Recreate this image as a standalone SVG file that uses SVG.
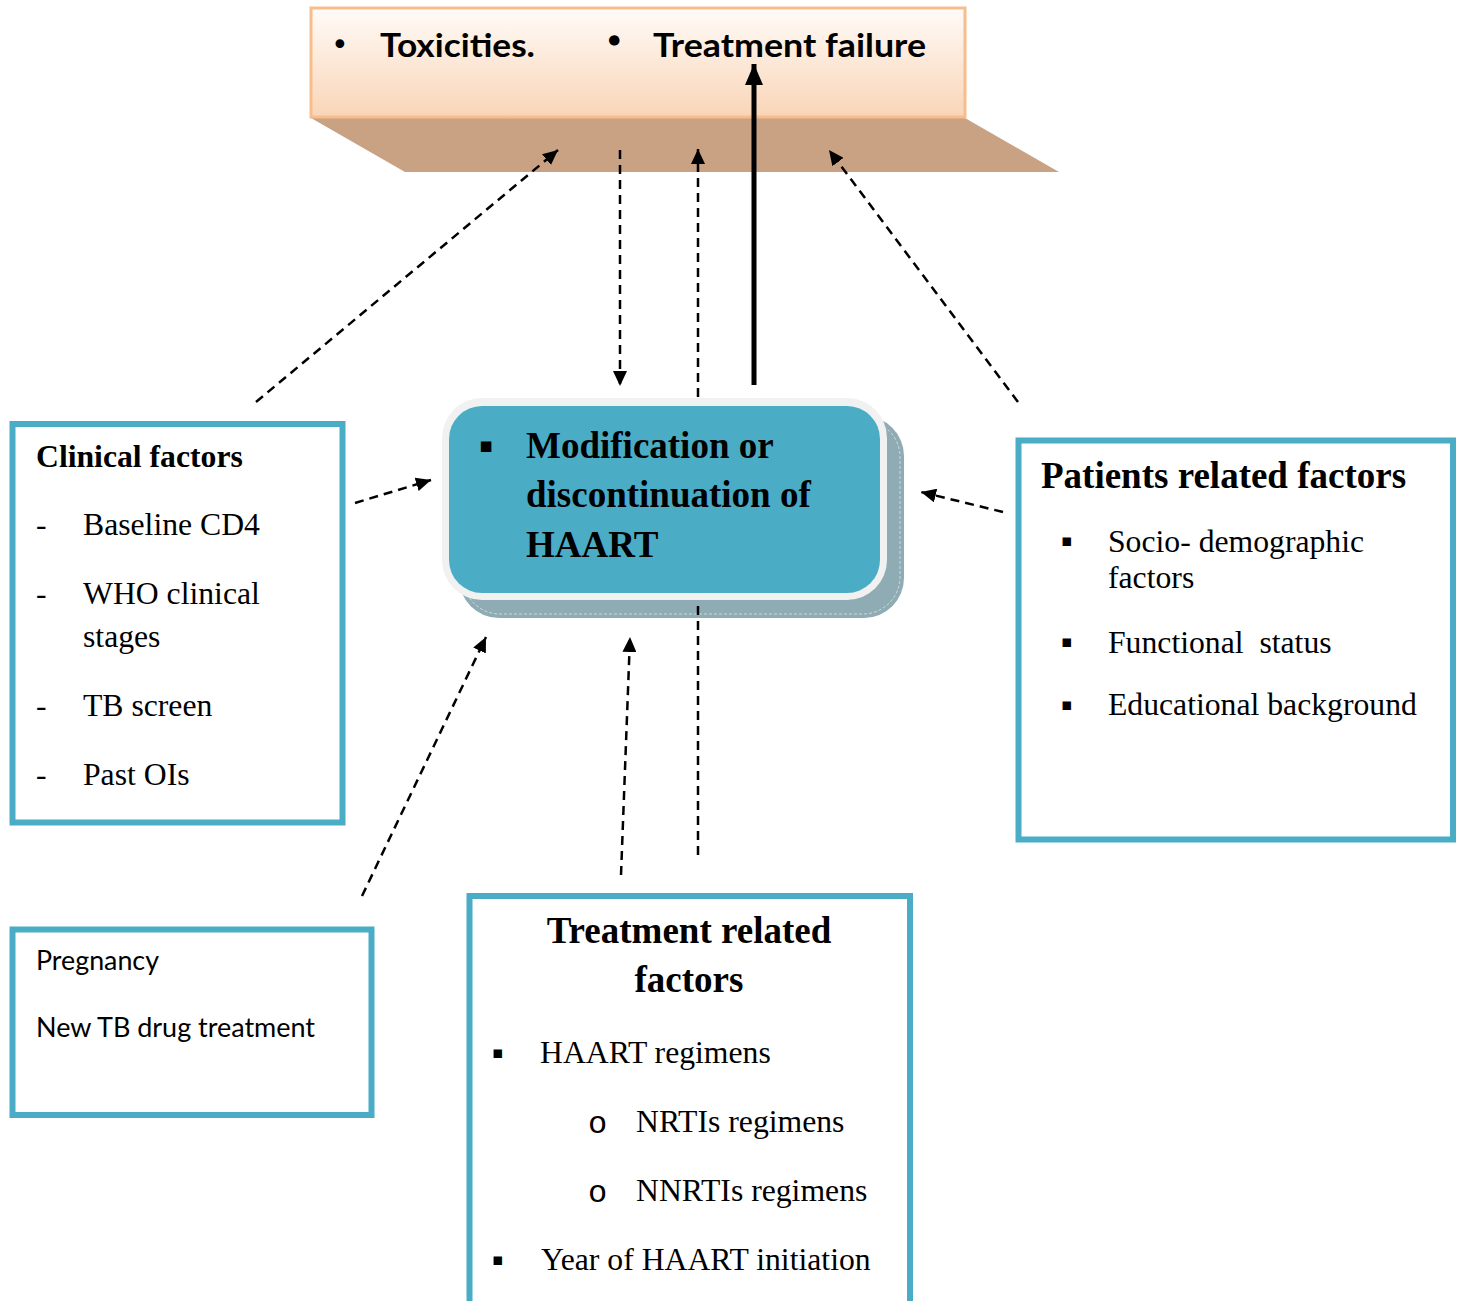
<svg xmlns="http://www.w3.org/2000/svg" width="1462" height="1301" viewBox="0 0 1462 1301">
<defs>
<linearGradient id="peach" x1="0" y1="0" x2="0" y2="1">
<stop offset="0" stop-color="#fffbf8"/>
<stop offset="1" stop-color="#f9d5b7"/>
</linearGradient>
<marker id="ah" markerUnits="userSpaceOnUse" markerWidth="16" markerHeight="14" refX="15" refY="7" orient="auto">
<path d="M0,0 L15,7 L0,14 z" fill="#000"/>
</marker>
<marker id="ahBig" markerUnits="userSpaceOnUse" markerWidth="22" markerHeight="18" refX="21" refY="9" orient="auto">
<path d="M0,0 L21,9 L0,18 z" fill="#000"/>
</marker>
</defs>
<style>
.box{fill:#fff;stroke:#4bacc6;stroke-width:6}
.serif{font-family:"Liberation Serif","Times New Roman",serif;fill:#000}
.b{font-weight:bold}
.r{font-size:31.7px}
.sans{font-family:Lato,"Open Sans","Liberation Sans",sans-serif;fill:#000}
.bul{font-family:"DejaVu Sans",sans-serif;fill:#000}
.circ{font-family:"Liberation Mono","Courier New",monospace;font-size:32px;fill:#000}
.dash{fill:none;stroke:#000;stroke-width:2.5;stroke-dasharray:9 6;marker-end:url(#ah)}
</style>
<rect width="1462" height="1301" fill="#fff"/>

<g id="outcome">
<polygon points="311,118 965,118 1059,172 405,172" fill="#c9a183"/>
<rect x="311" y="8" width="654" height="109" fill="url(#peach)" stroke="#f7bd8c" stroke-width="3"/>
<text class="bul" x="331" y="55" font-size="30">•</text>
<text class="sans b" x="380" y="57" font-size="33" textLength="155" lengthAdjust="spacingAndGlyphs">Toxicities.</text>
<text class="bul" x="604" y="53" font-size="36" transform="rotate(-25 616 41)">•</text>
<text class="sans b" x="653" y="57" font-size="33" textLength="273" lengthAdjust="spacingAndGlyphs">Treatment failure</text>
</g>

<g id="haart">
<rect x="459" y="416" width="445" height="202" rx="40" fill="#8fabb4"/>
<rect x="463" y="420" width="437" height="194" rx="37" fill="none" stroke="#fff" stroke-width="0.8" stroke-dasharray="3 2" opacity="0.7"/>
<rect x="442" y="398" width="445" height="202" rx="40" fill="#f1f1f1"/>
<rect x="449" y="406" width="431" height="187" rx="33" fill="#4bacc6"/>
<text class="bul" x="479" y="452" font-size="21">▪</text>
<text class="serif b" x="526" y="458" font-size="37">Modification or</text>
<text class="serif b" x="526" y="507" font-size="37">discontinuation of</text>
<text class="serif b" x="526" y="557" font-size="37">HAART</text>
</g>

<g id="clinical">
<rect class="box" x="12.5" y="424" width="330" height="398.5"/>
<text class="serif b r" x="36" y="467">Clinical factors</text>
<text class="serif r" x="36" y="535">-</text>
<text class="serif r" x="83" y="535">Baseline CD4</text>
<text class="serif r" x="36" y="604">-</text>
<text class="serif r" x="83" y="604">WHO clinical</text>
<text class="serif r" x="83" y="647">stages</text>
<text class="serif r" x="36" y="716">-</text>
<text class="serif r" x="83" y="716">TB screen</text>
<text class="serif r" x="36" y="785">-</text>
<text class="serif r" x="83" y="785">Past OIs</text>
</g>

<g id="patients">
<rect class="box" x="1018.5" y="440.5" width="434.5" height="399"/>
<text class="serif b" x="1041" y="488" font-size="37">Patients related factors</text>
<text class="bul" x="1061" y="546" font-size="17">▪</text>
<text class="serif r" x="1108" y="552">Socio- demographic</text>
<text class="serif r" x="1108" y="588">factors</text>
<text class="bul" x="1061" y="647" font-size="17">▪</text>
<text class="serif r" x="1108" y="653" xml:space="preserve">Functional  status</text>
<text class="bul" x="1061" y="710" font-size="17">▪</text>
<text class="serif r" x="1108" y="715">Educational background</text>
</g>

<g id="other">
<rect class="box" x="12.5" y="929.5" width="359" height="185.5"/>
<text class="sans" x="36" y="970" font-size="26" textLength="123" lengthAdjust="spacingAndGlyphs">Pregnancy</text>
<text class="sans" x="36" y="1037" font-size="26" textLength="279" lengthAdjust="spacingAndGlyphs">New TB drug treatment</text>
</g>

<g id="treatment">
<rect class="box" x="469.5" y="896" width="440.5" height="430"/>
<text class="serif b" x="689" y="943" font-size="37" text-anchor="middle">Treatment related</text>
<text class="serif b" x="689" y="992" font-size="37" text-anchor="middle">factors</text>
<text class="bul" x="492" y="1058" font-size="17">▪</text>
<text class="serif r" x="540" y="1063">HAART regimens</text>
<text class="circ" x="588" y="1133">o</text>
<text class="serif r" x="636" y="1132">NRTIs regimens</text>
<text class="circ" x="588" y="1202">o</text>
<text class="serif r" x="636" y="1201">NNRTIs regimens</text>
<text class="bul" x="492" y="1265" font-size="17">▪</text>
<text class="serif r" x="541" y="1270">Year of HAART initiation</text>
</g>

<g id="connectors">
<path class="dash" d="M256,402 L558,150"/>
<path class="dash" d="M620,150 L620,386"/>
<path class="dash" d="M698,855 V600 M698,397 V149"/>
<path d="M754,385 L754,64" stroke="#000" stroke-width="5" fill="none" marker-end="url(#ahBig)"/>
<path class="dash" d="M1018,402 L829,150"/>
<path class="dash" d="M355,503 L431,480"/>
<path class="dash" d="M1003,512 L921,492"/>
<path class="dash" d="M362,896 L486,637"/>
<path class="dash" d="M621,875 L630,637"/>
</g>
</svg>
